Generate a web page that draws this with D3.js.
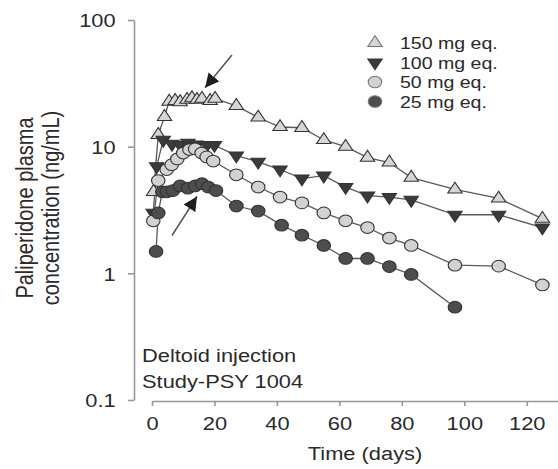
<!DOCTYPE html>
<html lang="en">
<head>
<meta charset="UTF-8">
<title>Paliperidone plasma concentration</title>
<script src="https://cdn.jsdelivr.net/npm/d3@7"></script>
<style>
  body { margin: 0; background: #fff; }
  svg text { font-family: "Liberation Sans", Arial, sans-serif; fill: #2a2a2a; }
</style>
</head>
<body>
<div id="chart"></div>
<script>
// series (days / ng/mL)
const days150 = [0.5, 2, 4, 5.5, 7.4, 9, 11.2, 12.8, 14.4, 16, 18.6, 20.2, 27, 34, 41, 48, 55, 62, 69, 76, 83, 97, 111, 125];
const vals150 = [4.4, 12.4, 17.2, 22.7, 23, 22.5, 23.5, 24.2, 23.5, 23.9, 23, 23.9, 21, 17, 14.3, 14.1, 11.3, 10, 8.2, 7.5, 5.7, 4.6, 3.9, 2.7];

const days100 = [0.4, 1.5, 3.6, 6.4, 9, 11.5, 14, 17.6, 20, 27, 34, 41, 48, 55, 62, 69, 76, 83, 97, 111, 125];
const vals100 = [3.0, 7.0, 11.3, 10.5, 10.3, 10.7, 10.4, 10.3, 10.3, 8.5, 7.6, 6.6, 5.6, 5.9, 4.8, 4.1, 4.0, 3.8, 2.9, 2.9, 2.3];

const days50 = [0.4, 2, 4.7, 6.3, 8.1, 10, 12, 13.8, 15.9, 17.5, 19.6, 27, 34, 41, 48, 55, 62, 69, 76, 83, 97, 111, 125];
const vals50 = [2.6, 5.4, 6.6, 7.2, 8.0, 8.9, 9.5, 9.6, 8.9, 8.3, 7.7, 6.0, 4.8, 4.0, 3.6, 3.0, 2.6, 2.3, 1.9, 1.66, 1.16, 1.14, 0.81];

const days25 = [1.3, 2, 3.3, 4.8, 6.7, 9, 11.5, 13.8, 16, 18, 20.5, 27, 34, 41.5, 48, 55, 62, 69, 76, 83, 97];
const vals25 = [1.49, 3.0, 4.4, 4.4, 4.5, 4.9, 4.7, 4.9, 5.1, 4.8, 4.5, 3.4, 3.1, 2.4, 2.0, 1.66, 1.31, 1.31, 1.13, 0.98, 0.54];

const seriesNames = ["150 mg eq.", "100 mg eq.", "50 mg eq.", "25 mg eq."];
const xTicks = [0, 20, 40, 60, 80, 100, 120];
const yTicks = [0.1, 1, 10, 100];
const noteLines = ["Deltoid injection", "Study-PSY 1004"];

// arrows: [tailDay, tailVal, tipDay, tipVal]
const arrows = [[25.6, 53, 17, 29.2], [6.4, 1.99, 14.4, 4.04]];

const W = 558, H = 469;
const sx = 1.15; // the original figure is a little wider than tall

const series = [
  { name: seriesNames[0], days: days150, vals: vals150, shape: "up", fill: "#d6d6d6" },
  { name: seriesNames[1], days: days100, vals: vals100, shape: "down", fill: "#3a3a3a" },
  { name: seriesNames[2], days: days50, vals: vals50, shape: "circle", fill: "#d2d2d2" },
  { name: seriesNames[3], days: days25, vals: vals25, shape: "circle", fill: "#4d4d4d" }
];

const svg = d3.select("#chart").append("svg")
  .attr("width", W)
  .attr("height", H);

const x = d3.scaleLinear().domain([0, 130]).range([152, 558]);
const y = d3.scaleLog().domain([0.1, 100]).range([400, 20]);

const sym = {
  up: d3.symbol(d3.symbolTriangle, 68)(),
  down: d3.symbol(d3.symbolTriangle, 68)(),
  circle: d3.symbol(d3.symbolCircle, 108)()
};
function symTransform(shape, px, py) {
  return `translate(${px},${py})` + (shape === "down" ? " rotate(180)" : "") + ` scale(${sx},1)`;
}

// axes
const yAxis = svg.append("g")
  .attr("transform", "translate(134,0)")
  .call(d3.axisLeft(y).tickValues(yTicks).tickFormat(d3.format("")).tickSize(6).tickSizeOuter(0).tickPadding(10));

const xAxis = svg.append("g")
  .attr("transform", "translate(0,401)")
  .call(d3.axisBottom(x).tickValues(xTicks).tickSize(5).tickSizeOuter(0).tickPadding(11));

[yAxis, xAxis].forEach(g => {
  g.select(".domain").attr("stroke", "#999").attr("stroke-width", 1.6);
  g.selectAll(".tick line").attr("stroke", "#999").attr("stroke-width", 1.6);
  g.selectAll(".tick text")
    .attr("font-size", 19)
    .attr("fill", "#2a2a2a")
    .attr("transform", `scale(${sx},1)`);
});
yAxis.selectAll(".tick text").attr("dy", "0.36em");

// axis titles
svg.append("text")
  .attr("transform", `translate(365,460) scale(${sx},1)`)
  .attr("text-anchor", "middle")
  .attr("font-size", 19)
  .text("Time (days)");

svg.append("text")
  .attr("transform", `translate(33,208) rotate(-90) scale(1,${sx})`)
  .attr("text-anchor", "middle")
  .attr("font-size", 20)
  .text("Paliperidone plasma");

svg.append("text")
  .attr("transform", `translate(59,208) rotate(-90) scale(1,${sx})`)
  .attr("text-anchor", "middle")
  .attr("font-size", 20)
  .text("concentration (ng/mL)");

// study note
noteLines.forEach((t, i) => {
  svg.append("text")
    .attr("transform", `translate(142,${362 + i * 26}) scale(${sx},1)`)
    .attr("font-size", 19)
    .text(t);
});

// lines
const line = d3.line().x(d => x(d[0])).y(d => y(d[1]));
series.forEach(s => {
  const pts = s.days.map((d, i) => [d, s.vals[i]]);
  svg.append("path")
    .datum(pts)
    .attr("d", line)
    .attr("fill", "none")
    .attr("stroke", "#5a5a5a")
    .attr("stroke-width", 1.3);
});

// markers
series.forEach(s => {
  const pts = s.days.map((d, i) => [d, s.vals[i]]);
  svg.append("g").selectAll("path")
    .data(pts)
    .enter().append("path")
    .attr("d", sym[s.shape])
    .attr("transform", d => symTransform(s.shape, x(d[0]), y(d[1])))
    .attr("fill", s.fill)
    .attr("stroke", "#333")
    .attr("stroke-width", 1);
});

// arrows
svg.append("defs").append("marker")
  .attr("id", "head")
  .attr("viewBox", "0 0 10 10")
  .attr("refX", 10).attr("refY", 5)
  .attr("markerWidth", 14).attr("markerHeight", 14)
  .attr("markerUnits", "userSpaceOnUse")
  .attr("orient", "auto")
  .append("path")
  .attr("d", "M0,0 L10,5 L0,10 Z")
  .attr("fill", "#1e1e1e");

arrows.forEach(a => {
  svg.append("line")
    .attr("x1", x(a[0])).attr("y1", y(a[1]))
    .attr("x2", x(a[2])).attr("y2", y(a[3]))
    .attr("stroke", "#555")
    .attr("stroke-width", 1.5)
    .attr("marker-end", "url(#head)");
});

// legend
const legend = svg.append("g");
series.forEach((s, i) => {
  const ly = 43 + i * 19.5;
  legend.append("path")
    .attr("d", sym[s.shape])
    .attr("transform", symTransform(s.shape, 375, ly))
    .attr("fill", s.fill)
    .attr("stroke", s.shape === "down" ? "#3a3a3a" : "#777")
    .attr("stroke-width", 1);
  legend.append("text")
    .attr("transform", `translate(400,${ly + 6}) scale(${sx},1)`)
    .attr("font-size", 17)
    .text(s.name);
});
</script>
</body>
</html>
